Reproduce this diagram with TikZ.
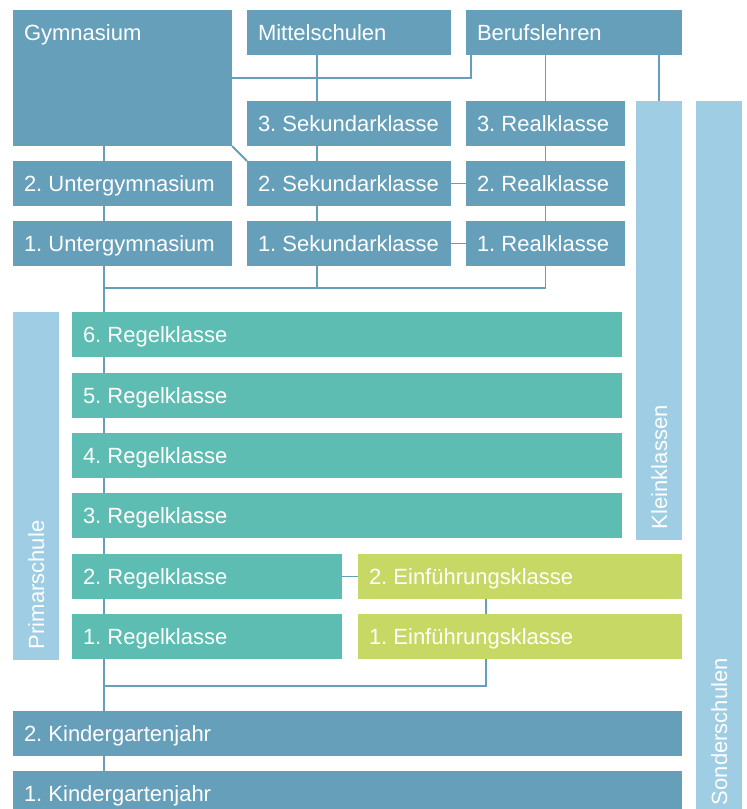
\documentclass[tikz,border=0pt]{standalone}
\usepackage{fontspec}
\setmainfont{Liberation Sans}
\definecolor{schoolblue}{HTML}{669FBA}
\definecolor{schoolteal}{HTML}{5DBDB2}
\definecolor{schoollime}{HTML}{C8D865}
\definecolor{schoollight}{HTML}{9FCDE4}
\newcommand{\schoolfont}{\fontsize{22}{26}\selectfont\frenchspacing\hyphenpenalty=10000\relax}

\begin{document}
\begin{tikzpicture}[x=1pt, y=-1pt,
    every node/.style={rectangle, anchor=north west, text=white, align=flush left,
      inner xsep=11pt, inner ysep=14.5pt, outer sep=0pt,
      text height=16pt, text depth=0pt, font=\schoolfont},
    boxw/.style={minimum width=#1pt, text width=#1pt-22pt},
    link/.style={draw=schoolblue, line width=1.8pt}]
  \useasboundingbox (0,0) rectangle (747,809);

  % Oberstufe
  \node[fill=schoolblue, boxw=219, text depth=91pt] (gym) at (13,10) {Gymnasium};
  \node[fill=schoolblue, boxw=204] (mittel) at (247,10) {Mittelschulen};
  \node[fill=schoolblue, boxw=216] (beruf) at (466,10) {Berufslehren};
  \node[fill=schoolblue, boxw=204] (sek3) at (247,101) {3. Sekundarklasse};
  \node[fill=schoolblue, boxw=159] (real3) at (466,101) {3. Realklasse};
  \node[fill=schoolblue, boxw=219] (ug2) at (13,161) {2. Untergymnasium};
  \node[fill=schoolblue, boxw=204] (sek2) at (247,161) {2. Sekundarklasse};
  \node[fill=schoolblue, boxw=159] (real2) at (466,161) {2. Realklasse};
  \node[fill=schoolblue, boxw=219] (ug1) at (13,221) {1. Untergymnasium};
  \node[fill=schoolblue, boxw=204] (sek1) at (247,221) {1. Sekundarklasse};
  \node[fill=schoolblue, boxw=159] (real1) at (466,221) {1. Realklasse};

  % Primarstufe
  \node[fill=schoolteal, boxw=550] (regel6) at (72,312) {6. Regelklasse};
  \node[fill=schoolteal, boxw=550] (regel5) at (72,373) {5. Regelklasse};
  \node[fill=schoolteal, boxw=550] (regel4) at (72,433) {4. Regelklasse};
  \node[fill=schoolteal, boxw=550] (regel3) at (72,493) {3. Regelklasse};
  \node[fill=schoolteal, boxw=270] (regel2) at (72,554) {2. Regelklasse};
  \node[fill=schoolteal, boxw=270] (regel1) at (72,614) {1. Regelklasse};
  \node[fill=schoollime, boxw=324] (einf2) at (358,554) {2. Einführungsklasse};
  \node[fill=schoollime, boxw=324] (einf1) at (358,614) {1. Einführungsklasse};

  % Kindergarten
  \node[fill=schoolblue, boxw=669] (kg2) at (13,711) {2. Kindergartenjahr};
  \node[fill=schoolblue, boxw=669] (kg1) at (13,771) {1. Kindergartenjahr};

  % Seitenbalken
  \node[fill=schoollight, rotate=90, anchor=center, boxw=348, minimum height=46pt] (prim) at (36,486) {Primarschule};
  \node[fill=schoollight, rotate=90, anchor=center, boxw=439, minimum height=46pt] (klein) at (659,320.5) {Kleinklassen};
  \node[fill=schoollight, rotate=90, anchor=center, boxw=715, minimum height=46pt] (sonder) at (719,458.5) {Sonderschulen};

  % Hilfspunkte
  \coordinate (mainline) at (104,0);
  \coordinate (sekline) at (317,0);
  \coordinate (einfline) at (486,0);
  \coordinate (upperjoin) at (104,288);
  \coordinate (lowerjoin) at (104,686);

  % Verbindungen
  \draw[link] (gym.east) -| ([xshift=5pt]beruf.south west);
  \draw[link] (mittel.south -| sekline) -- (sek3.north -| sekline);
  \draw[link] (beruf.south -| real3) -- (real3.north);
  \draw[link] (beruf.south -| klein) -- (klein.east);
  \draw[link] (gym.south east) -- (sek2.north west);
  \draw[link] (gym.south -| mainline) -- (ug2.north -| mainline);
  \draw[link] (ug2.south -| mainline) -- (ug1.north -| mainline);
  \draw[link] (ug1.south -| mainline) -- (regel6.north -| mainline);
  \draw[link] (sek3.south -| sekline) -- (sek2.north -| sekline);
  \draw[link] (sek2.south -| sekline) -- (sek1.north -| sekline);
  \draw[link] (sek1.south -| sekline) -- (sekline |- upperjoin);
  \draw[link] (real3) -- (real2);
  \draw[link] (real2) -- (real1);
  \draw[link] (real1.south) |- (upperjoin);
  \draw[link] (sek2) -- (real2);
  \draw[link] (sek1) -- (real1);
  \foreach \a/\b in {regel6/regel5, regel5/regel4, regel4/regel3, regel3/regel2, regel2/regel1, regel1/kg2, kg2/kg1}
    \draw[link] (\a.south -| mainline) -- (\b.north -| mainline);
  \draw[link] (regel2) -- (einf2);
  \draw[link] (einf2.south -| einfline) -- (einf1.north -| einfline);
  \draw[link] (einf1.south -| einfline) |- (lowerjoin);
\end{tikzpicture}
\end{document}
